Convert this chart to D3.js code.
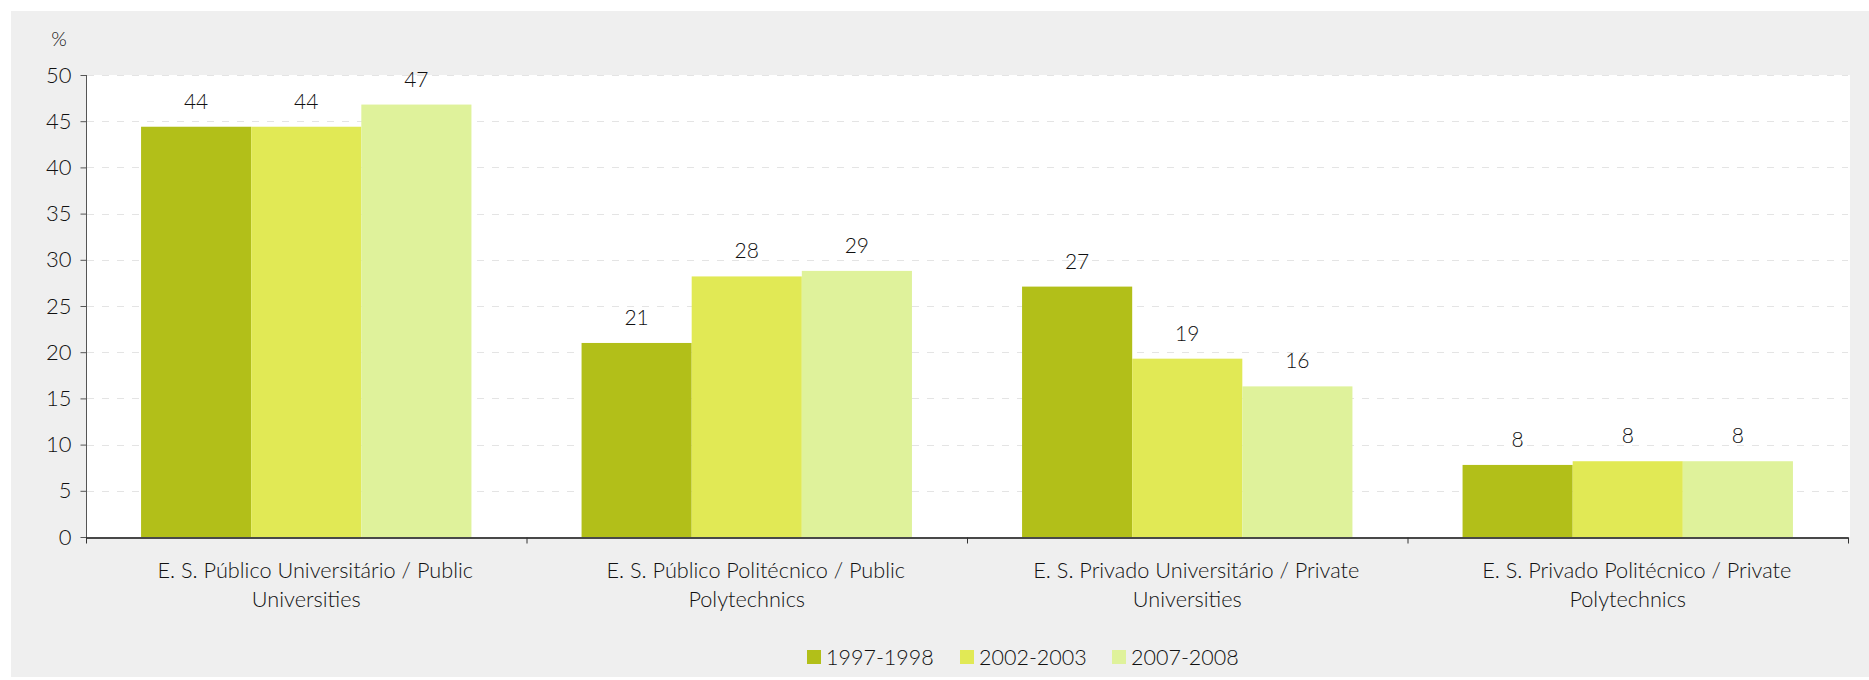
<!DOCTYPE html>
<html>
<head>
<meta charset="utf-8">
<script src="https://cdn.jsdelivr.net/npm/d3@7"></script>
<style>
  html, body { margin: 0; padding: 0; background: #ffffff; }
  svg { display: block; }
  text { font-family: Lato, "Open Sans", sans-serif; font-weight: 300; fill: #111; }
</style>
</head>
<body>
<svg id="chart" width="1869" height="680"></svg>
<script>
const categories = [
  "E. S. Público Universitário / Public Universities",
  "E. S. Público Politécnico / Public Polytechnics",
  "E. S. Privado Universitário / Private Universities",
  "E. S. Privado Politécnico / Private Polytechnics"
];
const categoryLines = [
  ["E. S. Público Universitário / Public", "Universities"],
  ["E. S. Público Politécnico / Public", "Polytechnics"],
  ["E. S. Privado Universitário / Private", "Universities"],
  ["E. S. Privado Politécnico / Private", "Polytechnics"]
];
const seriesNames = ["1997-1998", "2002-2003", "2007-2008"];
const values1997 = [44.4, 21.0, 27.1, 7.8];
const values2002 = [44.4, 28.2, 19.3, 8.2];
const values2007 = [46.8, 28.8, 16.3, 8.2];
const yTicks = [0, 5, 10, 15, 20, 25, 30, 35, 40, 45, 50];
const colors = ["#b2bf19", "#e1e955", "#dff29b"];

const seriesValues = [values1997, values2002, values2007];
const svg = d3.select("#chart");
const FONT = "Lato, 'Open Sans', sans-serif";

// background panel
svg.append("rect").attr("x", 11).attr("y", 11).attr("width", 1858).attr("height", 666).attr("fill", "#efefef");

const plot = { left: 86, right: 1848, top: 75, bottom: 537 };

const x = d3.scaleBand().domain(categories).range([plot.left, plot.right]).paddingInner(0).paddingOuter(0);
const y = d3.scaleLinear().domain([0, 50]).range([plot.bottom, plot.top]);
const xs = d3.scaleBand().domain(seriesNames)
  .range([x.bandwidth() * 0.125, x.bandwidth() * 0.875]).padding(0);

// white plot area
svg.append("rect").attr("x", plot.left).attr("y", plot.top)
  .attr("width", plot.right - plot.left + 2).attr("height", plot.bottom - plot.top).attr("fill", "#ffffff");

// gridlines
svg.append("g").selectAll("line").data(yTicks.filter(d => d > 0)).join("line")
  .attr("x1", plot.left + 1).attr("x2", plot.right)
  .attr("y1", d => Math.round(y(d)) + 0.5).attr("y2", d => Math.round(y(d)) + 0.5)
  .attr("stroke", "#e4e4e4").attr("stroke-width", 1).attr("stroke-dasharray", "7,8");

// bars
const groups = svg.append("g").selectAll("g").data(categories).join("g")
  .attr("transform", c => `translate(${x(c)},0)`);
groups.each(function(c, ci) {
  const g = d3.select(this);
  seriesNames.forEach((s, si) => {
    const v = seriesValues[si][ci];
    g.append("rect").attr("x", xs(s)).attr("width", xs.bandwidth())
      .attr("y", y(v)).attr("height", y(0) - y(v)).attr("fill", colors[si]);
    g.append("text").attr("x", xs(s) + xs.bandwidth() / 2).attr("y", y(v) - 18)
      .attr("text-anchor", "middle").attr("font-size", 21).text(d3.format(".0f")(v));
  });
});

// y axis
const yAxis = d3.axisLeft(y).tickValues(yTicks).tickSize(6).tickPadding(9).tickSizeOuter(0);
const gy = svg.append("g").attr("transform", `translate(${plot.left + 0.5},0)`).call(yAxis);
gy.select(".domain").attr("stroke", "#555");
gy.selectAll(".tick line").attr("stroke", "#555");
gy.selectAll(".tick text").attr("font-size", 22).attr("font-family", FONT).attr("font-weight", 300).attr("fill", "#111");
gy.select(".domain").attr("d", `M0,${plot.top}V${plot.bottom + 6}`);

// x axis
const xAxis = d3.axisBottom(x).tickValues([]).tickSizeOuter(0);
const gx = svg.append("g").attr("transform", `translate(0,${plot.bottom + 0.5})`).call(xAxis);
gx.select(".domain").attr("stroke", "#111").attr("stroke-width", 1.5);
const sepTicks = categories.map(c => x(c)).concat([plot.right]);
gx.selectAll(".sep").data(sepTicks).join("line").attr("class", "sep")
  .attr("x1", d => d + 0.5).attr("x2", d => d + 0.5).attr("y1", 0).attr("y2", 6).attr("stroke", "#333");

// category labels
categories.forEach((c, ci) => {
  const cx = x(c) + x.bandwidth() / 2;
  const t = svg.append("text").attr("x", cx).attr("y", 578)
    .attr("text-anchor", "middle").attr("font-size", 21.7);
  categoryLines[ci].forEach((ln, li) => {
    t.append("tspan").attr("x", li === 0 ? cx + 9 : cx).attr("dy", li === 0 ? 0 : 29).text(ln);
  });
});

// % unit
svg.append("text").attr("x", 59).attr("y", 46).attr("text-anchor", "middle").attr("font-size", 20).text("%");

// legend
const legendX = [807, 960, 1112];
seriesNames.forEach((s, i) => {
  svg.append("rect").attr("x", legendX[i]).attr("y", 650).attr("width", 14).attr("height", 14).attr("fill", colors[i]);
  svg.append("text").attr("x", legendX[i] + 19).attr("y", 665).attr("font-size", 21.5).text(s);
});
</script>
</body>
</html>
